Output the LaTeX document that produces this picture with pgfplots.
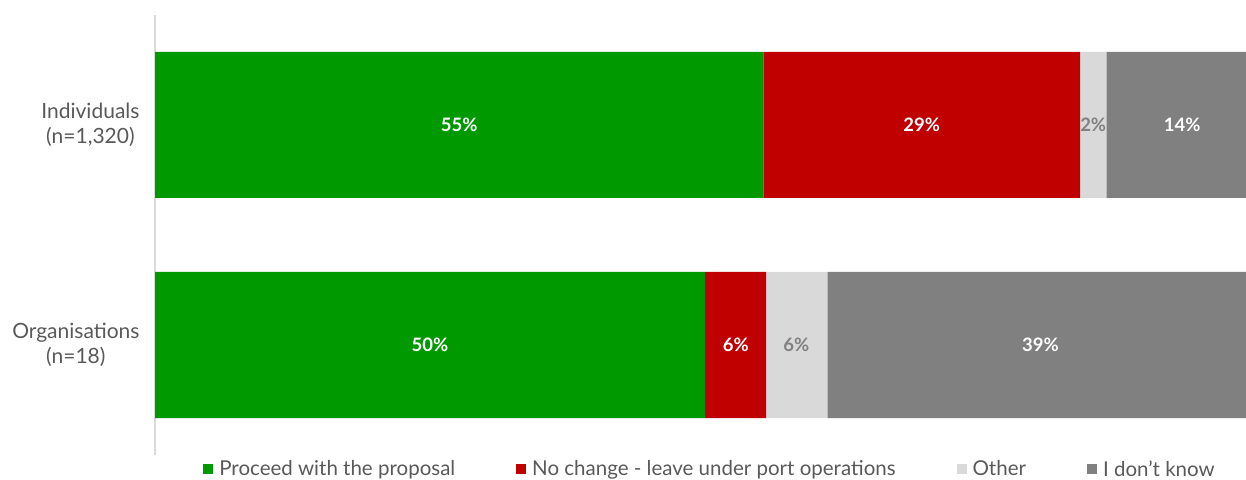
\documentclass[border=0pt]{standalone}
\usepackage{pgfplots}
\pgfplotsset{compat=1.18}
\usepackage{fontspec}
\setmainfont{Lato}
\definecolor{cgreen}{HTML}{009900}
\definecolor{cred}{HTML}{C00000}
\definecolor{cother}{HTML}{D9D9D9}
\definecolor{cidk}{HTML}{808080}
\definecolor{ctext}{HTML}{595959}
\definecolor{caxis}{HTML}{D9D9D9}
\begin{document}
\begin{tikzpicture}[x=1pt,y=1pt]
\useasboundingbox (0,0) rectangle (1246,479);
\begin{axis}[
  at={(155pt,24pt)}, anchor=south west,
  scale only axis, width=1091pt, height=440pt,
  xbar stacked, bar width=146pt,
  xmin=0, xmax=99.2, ymin=-0.5, ymax=1.5,
  hide x axis,
  axis y line*=left,
  y axis line style={draw=caxis, line width=1.2pt, -},
  ytick={0,1},
  yticklabels={{Organisations\\(n=18)},{Individuals\\(n=1,320)}},
  yticklabel style={align=center, font=\fontsize{21}{25}\selectfont, text=ctext, xshift=-12pt},
  major tick length=0pt,
  ytick style={draw=none},
  legend columns=4,
  legend style={draw=none, fill=none, at={(0.5105,-0.032)}, anchor=center,
    font=\fontsize{20.5}{22}\selectfont, text=ctext,
    nodes={inner xsep=6pt},
    /tikz/every even column/.append style={column sep=55pt}},
  legend image code/.code={\fill[#1] (0pt,-5pt) rectangle (10pt,5pt);},
]
\addplot[fill=cgreen, draw=none] coordinates {(55.3,1) (50.0,0)};
\addplot[fill=cred, draw=none] coordinates {(28.8,1) (5.56,0)};
\addplot[fill=cother, draw=none] coordinates {(2.4,1) (5.56,0)};
\addplot[fill=cidk, draw=none] coordinates {(13.5,1) (38.88,0)};
\legend{Proceed with the proposal, No change - leave under port operations, Other, I don{\char"27}t know}
\end{axis}
\begin{axis}[
  at={(155pt,24pt)}, anchor=south west,
  scale only axis, width=1091pt, height=440pt,
  xmin=0, xmax=99.2, ymin=-0.5, ymax=1.5,
  hide axis, clip=false,
]
\addplot[only marks, mark=*, mark size=0pt, mark options={draw=none, fill=none},
  nodes near coords={\pgfplotspointmeta\%}, point meta=explicit symbolic,
  every node near coord/.style={anchor=center, text=white, font=\fontsize{18.5}{18.5}\selectfont\bfseries}]
  table[meta=label] {
x y label
27.65 1 55
69.7 1 29
93.4 1 14
25.0 0 50
52.8 0 6
80.5 0 39
};
\addplot[only marks, mark=*, mark size=0pt, mark options={draw=none, fill=none},
  nodes near coords={\pgfplotspointmeta\%}, point meta=explicit symbolic,
  every node near coord/.style={anchor=center, text=cidk, font=\fontsize{18.5}{18.5}\selectfont\bfseries}]
  table[meta=label] {
x y label
85.3 1 2
58.3 0 6
};
\end{axis}
\end{tikzpicture}
\end{document}
